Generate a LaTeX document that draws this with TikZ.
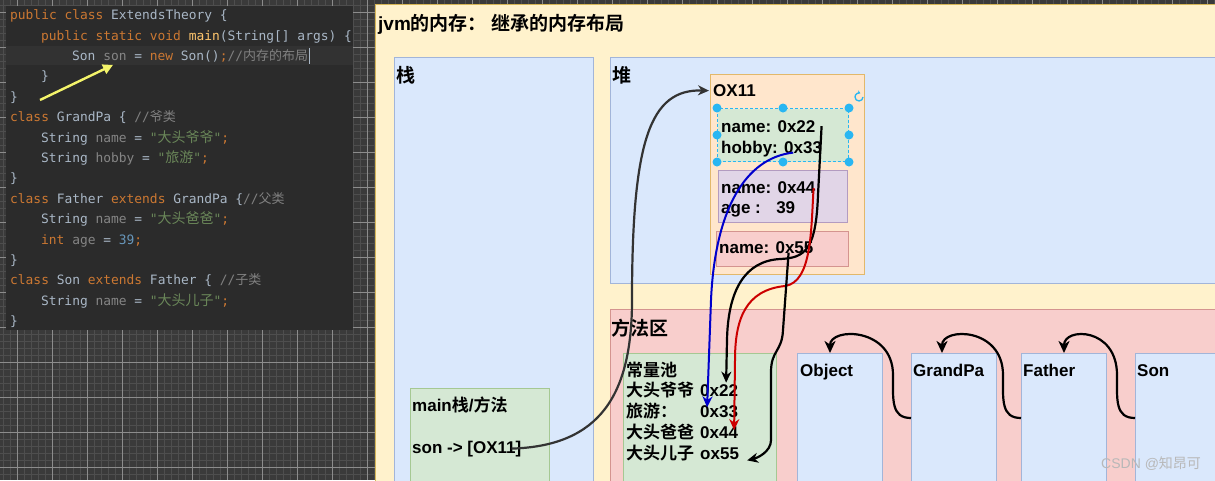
\documentclass[tikz,border=0pt]{standalone}
\usepackage{fontspec}
\setmainfont{Liberation Sans}
\setmonofont{DejaVu Sans Mono}
\newfontfamily\cjk{Noto Sans CJK SC}[BoldFont={Noto Sans CJK SC Bold}]
\usetikzlibrary{arrows.meta, positioning}

\definecolor{gridbg}{HTML}{3A3A3A}
\definecolor{gridminor}{HTML}{4E4E4E}
\definecolor{gridmajor}{HTML}{8C8C8C}
\definecolor{codebg}{HTML}{2B2B2B}
\definecolor{codehl}{HTML}{323232}
\definecolor{kwcol}{HTML}{CC7832}
\definecolor{idcol}{HTML}{A9B7C6}
\definecolor{fldcol}{HTML}{858585}
\definecolor{comcol}{HTML}{808080}
\definecolor{strcol}{HTML}{6A8759}
\definecolor{numcol}{HTML}{6897BB}
\definecolor{fncol}{HTML}{FFC66D}
\definecolor{yfill}{HTML}{FFF2CC}\definecolor{ydraw}{HTML}{D6B656}
\definecolor{bfill}{HTML}{DAE8FC}\definecolor{bdraw}{HTML}{A2B5D9}
\definecolor{rfill}{HTML}{F8CECC}\definecolor{rdraw}{HTML}{D4948F}
\definecolor{gfill}{HTML}{D5E8D4}\definecolor{gdraw}{HTML}{A5C893}
\definecolor{ofill}{HTML}{FFE6CC}\definecolor{odraw}{HTML}{E2B86A}
\definecolor{pfill}{HTML}{E1D5E7}\definecolor{pdraw}{HTML}{B39BC0}
\definecolor{handle}{HTML}{29B6F2}
\definecolor{darkline}{HTML}{333333}
\definecolor{bluearrow}{HTML}{0000CC}
\definecolor{redarrow}{HTML}{CC0000}
\definecolor{yellowarrow}{HTML}{F4F46A}
\definecolor{markcol}{HTML}{B8B8B8}

\newcommand\cn[1]{{\cjk #1}}
\newcommand\kw[1]{\textcolor{kwcol}{#1}}
\newcommand\fld[1]{\textcolor{fldcol}{#1}}
\newcommand\jnum[1]{\textcolor{numcol}{#1}}
\newcommand\jfn[1]{\textcolor{fncol}{#1}}
\newcommand\jstr[1]{\textcolor{strcol}{"{\cjk\fontsize{14}{16}\selectfont #1}"}}
\newcommand\jcom[1]{\textcolor{comcol}{//{\cjk\fontsize{13}{16}\selectfont #1}}}

\begin{document}
\begin{tikzpicture}[
    x=1pt, y=-1pt,
    code/.style={anchor=base west, inner sep=0pt, text=idcol, font=\ttfamily\fontsize{12.9}{15}\selectfont},
    region/.style={anchor=north west, inner sep=0pt, line width=1pt},
    sz/.style 2 args={minimum width=#1pt, minimum height=#2pt},
    ybox/.style={region, fill=yfill, draw=ydraw},
    bbox/.style={region, fill=bfill, draw=bdraw},
    rbox/.style={region, fill=rfill, draw=rdraw},
    gbox/.style={region, fill=gfill, draw=gdraw},
    obox/.style={region, fill=ofill, draw=odraw},
    pbox/.style={region, fill=pfill, draw=pdraw},
    lbl/.style={anchor=base west, inner sep=0pt, font=\bfseries\fontsize{19}{22}\selectfont},
    txt/.style={anchor=base west, inner sep=0pt, font=\bfseries\fontsize{17}{21}\selectfont},
    refline/.style={line width=2.2pt, -{Stealth[length=11pt, width=10pt, inset=3.5pt]}},
    inherit/.style={refline, black, -{Stealth[length=12pt, width=11pt, inset=3.5pt]}}
]
\useasboundingbox (0,0) rectangle (1215,480);
\clip (0,0) rectangle (1215,480);

% grid background
\fill[gridbg] (0,0) rectangle (1215,480);
\foreach \gx in {3,10,...,1215} \draw[gridminor, line width=0.6pt] (\gx,0) -- (\gx,480);
\foreach \gy in {5,12,...,480} \draw[gridminor, line width=0.6pt] (0,\gy) -- (1215,\gy);
\foreach \gx in {17,52,...,1215} \draw[gridmajor, line width=0.8pt] (\gx,0) -- (\gx,480);
\foreach \gy in {12,47,...,480} \draw[gridmajor, line width=0.8pt] (0,\gy) -- (1215,\gy);

% code panel
\fill[codebg] (6,6) rectangle (353,330);
\fill[codehl] (6,46) rectangle (353,65);
\node[code] (c1) at (10,19.7) {\kw{public} \kw{class} ExtendsTheory \{};
\node[code] (c2) at (41,40.1) {\kw{public} \kw{static} \kw{void} \jfn{main}(String[] args) \{};
\node[code] (c3) at (72,60.5) {Son \fld{son} = \kw{new} Son()\kw{;}\jcom{内存的布局}};
\node[code] (c4) at (41,80.9) {\}};
\node[code] (c5) at (10,101.3) {\}};
\node[code] (c6) at (10,121.7) {\kw{class} GrandPa \{ \jcom{爷类}};
\node[code] (c7) at (41,142.1) {String \fld{name} = \jstr{大头爷爷}\kw{;}};
\node[code] (c8) at (41,162.5) {String \fld{hobby} = \jstr{旅游}\kw{;}};
\node[code] (c9) at (10,182.9) {\}};
\node[code] (c10) at (10,203.3) {\kw{class} Father \kw{extends} GrandPa \{\jcom{父类}};
\node[code] (c11) at (41,223.7) {String \fld{name} = \jstr{大头爸爸}\kw{;}};
\node[code] (c12) at (41,244.1) {\kw{int} \fld{age} = \jnum{39}\kw{;}};
\node[code] (c13) at (10,264.5) {\}};
\node[code] (c14) at (10,284.9) {\kw{class} Son \kw{extends} Father \{ \jcom{子类}};
\node[code] (c15) at (41,305.3) {String \fld{name} = \jstr{大头儿子}\kw{;}};
\node[code] (c16) at (10,325.7) {\}};
\draw[idcol, line width=1pt] ([xshift=1.5pt]c3.east) ++(0,-8) -- ++(0,16);
\coordinate (ytail) at (40,100);
\draw[yellowarrow, line width=2.4pt, -{Triangle[length=10pt, width=10pt]}] (ytail) -- ([xshift=41pt, yshift=-9pt]c3.west);

% memory regions
\node[ybox, sz={900}{500}] (jvm) at (375,4) {};
\node[lbl] (title) at (378,30) {jvm\cn{的内存： 继承的内存布局}};
\node[bbox, sz={199}{450}] (stack) at (394,57) {};
\node[lbl] (stacklbl) at (396,82) {\cn{栈}};
\node[bbox, sz={700}{226}] (heap) at (610,57) {};
\node[lbl] (heaplbl) at (612,82) {\cn{堆}};
\node[rbox, sz={700}{300}] (method) at (610,309) {};
\node[lbl] (methodlbl) at (611,335) {\cn{方法区}};

% main stack frame
\node[gbox, sz={139}{120}] (mainbox) at (410,388) {};
\node[txt] (mainlbl) at (412,411) {main\cn{栈}/\cn{方法}};
\node[txt] (sonref) at (412,453) {son -> [OX11]};

% object in heap
\node[obox, sz={154}{200}] (obj) at (710,74) {};
\node[txt] (ox) at (713,96.5) {OX11};
\node[gbox, sz={131}{53}, draw=handle, dash pattern=on 3pt off 2pt] (gp) at (717,108) {};
\node[txt] (gpname) at (721,132) {name: 0x22};
\node[txt] (gphobby) at (721,153) {hobby: 0x33};
\node[pbox, sz={129}{52}] (fa) at (718,170) {};
\node[txt] (fname) at (721,193) {name: 0x44};
\node[txt] (fage) at (721,213.5) {\makebox[3.24em][l]{age :}39};
\node[rbox, sz={132}{35}] (so) at (716,231) {};
\node[txt] (sname) at (719,253.5) {name: 0x55};
\foreach \a in {north west, north, north east, west, east, south west, south, south east}
  \fill[handle] (gp.\a) circle (4.5);
\draw[handle, line width=1.3pt, -{Stealth[length=3pt, width=4pt]}] (gp.north east) ++(14,-11) arc[start angle=0, end angle=290, radius=4];

% constant pool
\node[gbox, sz={153}{150}] (pool) at (623,353) {};
\node[txt] (poollbl) at (626,376) {\cn{常量池}};
\node[txt] (k22) at (626,396.7) {\cn{大头爷爷}};
\node[txt] (k33) at (626,417.5) {\cn{旅游：}};
\node[txt] (k44) at (626,438.2) {\cn{大头爸爸}};
\node[txt] (k55) at (626,459) {\cn{大头儿子}};
\node[txt] (v22) at (700,396.7) {0x22};
\node[txt] (v33) at (700,417.5) {0x33};
\node[txt] (v44) at (700,438.2) {0x44};
\node[txt] (v55) at (700,459) {ox55};

% class data
\node[bbox, sz={85}{150}] (object) at (797,353) {};
\node[txt] (objectlbl) at (800,376) {Object};
\node[bbox, sz={85}{150}] (grandpa) at (911,353) {};
\node[txt] (grandpalbl) at (913,376) {GrandPa};
\node[bbox, sz={85}{150}] (father) at (1021,353) {};
\node[txt] (fatherlbl) at (1023,376) {Father};
\node[bbox, sz={100}{150}] (son) at (1135,353) {};
\node[txt] (sonlbl) at (1137,376) {Son};

% references
\draw[refline, darkline] ([xshift=-10pt]sonref.east) .. controls (600,446) and (632,395) .. (632,300)
  .. controls (632,140) and (650,89) .. ([xshift=-4pt]ox.west);
\draw[refline, bluearrow, line width=2pt] ([xshift=-29pt, yshift=-4pt]gphobby.east) .. controls (745,158) and (715,210) .. (711,300)
  -- ([xshift=-12pt, yshift=-2pt]v33.north);
\draw[refline, black] ([xshift=6pt]gpname.east) -- (818,195) .. controls (816,250) and (805,258) .. (780,259)
  .. controls (745,261) and (728,290) .. (727,340) -- ([xshift=7pt, yshift=2pt]v22.north);
\draw[refline, redarrow, line width=2pt] ([xshift=-2pt, yshift=-1pt]fname.east) .. controls (811,230) and (812,282) .. (785,286)
  .. controls (745,290) and (735,320) .. (735,360) -- ([xshift=15pt, yshift=-4pt]v44.north);
\draw[refline, black] ([xshift=-25pt, yshift=-5pt]sname.east) -- (783,330) .. controls (782,352) and (771,350) .. (771,372)
  -- (771,440) .. controls (771,452) and (757,458) .. ([xshift=8pt, yshift=-1pt]v55.south east);

% inheritance
\foreach \src/\dst/\dx in {grandpa/object/-10, father/grandpa/-12, son/father/0}
  \draw[inherit] ([yshift=-65pt]\src.north west) .. controls +(-20,0) and +(0,25) .. ([shift={(-18pt,-22pt)}]\src.north west)
    .. controls +(0,-48) and +(0,-26) .. ([xshift=\dx pt]\dst.north);

\node[anchor=base west, inner sep=0pt, text=markcol, font=\fontsize{14}{17}\selectfont] (mark) at (1101,468) {CSDN @\cn{知昂可}};
\end{tikzpicture}
\end{document}
